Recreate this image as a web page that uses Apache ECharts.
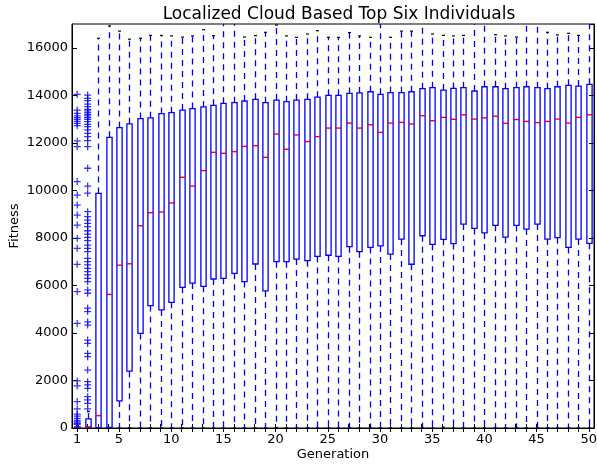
<!DOCTYPE html>
<html>
<head>
<meta charset="utf-8">
<script src="https://cdn.jsdelivr.net/npm/echarts@6/dist/echarts.min.js"></script>
<style>html,body{margin:0;padding:0;background:#fff}#c{width:597px;height:464px}</style>
</head>
<body>
<div id="c"></div>
<script>
const generations = ['1','2','3','4','5','6','7','8','9','10','11','12','13','14','15','16','17','18','19','20','21','22','23','24','25','26','27','28','29','30','31','32','33','34','35','36','37','38','39','40','41','42','43','44','45','46','47','48','49','50'];
const xTickLabels = ['1','5','10','15','20','25','30','35','40','45','50'];

const whiskerLow = [0,0,0,0,0,0,0,0,0,0,0,0,0,0,0,0,0,0,0,0,0,0,0,0,0,0,0,0,0,0,0,0,0,0,0,0,0,0,0,0,0,0,0,0,0,0,0,0,0,0];
const q1 = [0,0,0,30,1140,2390,3980,5150,4970,5290,5920,6100,5960,6270,6300,6510,6160,6900,5770,7000,7000,7110,7040,7220,7270,7220,7630,7420,7600,7660,7320,7950,6890,8090,7730,7940,7760,8580,8400,8210,8530,8030,8530,8370,8580,7950,8010,7600,7950,7770];
const median = [0,50,520,5620,6850,6910,8510,9060,9090,9470,10550,10180,10830,11600,11560,11630,11850,11880,11390,12370,11730,12330,12050,12260,12620,12620,12830,12620,12760,12440,12830,12860,12790,13140,12930,13070,12990,13180,13000,13050,13120,12820,12980,12900,12850,12900,13000,12830,13070,13180];
const q3 = [50,380,9870,12230,12640,12800,13020,13050,13230,13270,13380,13440,13510,13580,13660,13690,13760,13830,13690,13800,13730,13800,13830,13920,14000,14000,14080,14100,14150,14040,14110,14110,14150,14280,14320,14220,14290,14320,14180,14360,14360,14280,14320,14360,14320,14280,14360,14420,14390,14460];
const whiskerHigh = [100,700,16400,16920,16700,16360,16400,16520,16520,16500,16450,16500,16760,16510,17500,17500,16450,16510,16650,16960,16500,16440,16580,16720,16440,16440,16640,16500,16440,17500,16440,16700,16700,17500,16580,16520,16500,16520,17500,17500,16550,16500,16450,17500,17500,16650,16540,16610,16520,17500];

const outliersGen1 = [150,200,260,320,410,500,580,800,1110,1770,1980,4400,5740,6890,7560,7980,8540,8960,9380,9800,10370,11840,12080,12720,12820,12900,12990,13060,13130,13240,13380,14040];
const outliersGen2 = [14010,13870,13780,13630,13520,13410,13340,13270,13200,13130,13060,12990,12890,12780,12680,12540,12400,12260,12090,11840,10930,10180,9880,9100,8890,8750,8610,8470,8300,8160,8020,7880,7700,7560,7420,7140,7000,6860,6720,6580,6440,6300,6160,5810,5670,5040,4900,4470,4330,3700,3560,3140,3000,2440,1950,1810,1670,1320,1180,1040,800];

const BLUE = '#0000ff';
const FONT = 'DejaVu Sans';

const boxData = generations.map((g, i) => [i, whiskerLow[i], q1[i], median[i], q3[i], whiskerHigh[i]]);
const outlierData = outliersGen1.map(v => [0, v]).concat(outliersGen2.map(v => [1, v]));

function renderBox(params, api) {
  const idx = api.value(0);
  const cx = Math.round(api.coord([idx, 0])[0]) + 0.5;
  const band = api.size([1, 0])[0];
  const half = band * 0.25;
  const capHalf = band * 0.14;
  const y = k => api.coord([idx, api.value(k)])[1];
  const yLo = y(1), yQ1 = y(2), yMed = y(3), yQ3 = y(4), yHi = y(5);
  const dash = [6, 5];
  return {
    type: 'group',
    children: [
      { type: 'line', shape: { x1: cx, y1: yQ3, x2: cx, y2: yHi }, style: { stroke: BLUE, lineWidth: 1.3, lineDash: dash } },
      { type: 'line', shape: { x1: cx, y1: yQ1, x2: cx, y2: yLo }, style: { stroke: BLUE, lineWidth: 1.3, lineDash: dash } },
      { type: 'line', shape: { x1: cx - capHalf, y1: yHi, x2: cx + capHalf, y2: yHi }, style: { stroke: '#000', lineWidth: 1.2 } },
      { type: 'line', shape: { x1: cx - capHalf, y1: yLo, x2: cx + capHalf, y2: yLo }, style: { stroke: '#000', lineWidth: 1.2 } },
      { type: 'rect', shape: { x: cx - half, y: yQ3, width: 2 * half, height: yQ1 - yQ3 }, style: { fill: 'none', stroke: BLUE, lineWidth: 1.3 } },
      { type: 'line', shape: { x1: cx - half, y1: yMed, x2: cx + half, y2: yMed }, style: { stroke: '#ff0000', lineWidth: 1.4 } }
    ]
  };
}

const chart = echarts.init(document.getElementById('c'), null, { renderer: 'canvas' });
const axisLineStyle = { show: true, lineStyle: { color: '#000', width: 1 } };
chart.setOption({
  animation: false,
  backgroundColor: '#fff',
  title: {
    text: 'Localized Cloud Based Top Six Individuals',
    left: 334, top: 1, textAlign: 'center',
    textStyle: { fontFamily: FONT, fontSize: 17, fontWeight: 'normal', color: '#000' }
  },
  grid: { left: 72, right: 3, top: 24, bottom: 36, show: true, borderColor: '#000', borderWidth: 1, containLabel: false, outerBoundsMode: 'none' },
  xAxis: [{
    type: 'category', data: generations, boundaryGap: true,
    axisLine: axisLineStyle,
    axisTick: { show: true, inside: true, length: 4, alignWithLabel: true, interval: 0, lineStyle: { color: '#000' } },
    axisLabel: { interval: (i, v) => xTickLabels.indexOf(v) >= 0, color: '#000', fontFamily: FONT, fontSize: 13, margin: 5 },
    splitLine: { show: false },
    name: 'Generation', nameLocation: 'middle', nameGap: 20, nameMoveOverlap: false,
    nameTextStyle: { fontFamily: FONT, fontSize: 13, color: '#000', verticalAlign: 'top' }
  }, {
    type: 'category', data: generations, boundaryGap: true, position: 'top',
    axisLine: axisLineStyle,
    axisTick: { show: true, inside: true, length: 4, alignWithLabel: true, interval: 0, lineStyle: { color: '#000' } },
    axisLabel: { show: false }, splitLine: { show: false }
  }],
  yAxis: [{
    type: 'value', min: 0, max: 17000, interval: 2000,
    axisLine: axisLineStyle,
    axisTick: { show: true, inside: true, length: 5, lineStyle: { color: '#000' } },
    axisLabel: { color: '#000', fontFamily: FONT, fontSize: 13, margin: 4, showMaxLabel: false, formatter: v => String(v) },
    splitLine: { show: false },
    name: 'Fitness', nameLocation: 'middle', nameRotate: 90, nameGap: 51, nameMoveOverlap: false,
    nameTextStyle: { fontFamily: FONT, fontSize: 13, color: '#000' }
  }, {
    type: 'value', min: 0, max: 17000, interval: 2000, position: 'right',
    axisLine: axisLineStyle,
    axisTick: { show: true, inside: true, length: 5, lineStyle: { color: '#000' } },
    axisLabel: { show: false }, splitLine: { show: false }
  }],
  series: [{
    type: 'scatter', xAxisIndex: 0, yAxisIndex: 0,
    data: outlierData,
    symbol: 'path://M4.1,0H5.9V4.1H10V5.9H5.9V10H4.1V5.9H0V4.1H4.1Z',
    symbolSize: 7,
    itemStyle: { color: BLUE },
    z: 3
  }, {
    type: 'custom', xAxisIndex: 0, yAxisIndex: 0,
    data: boxData,
    encode: { x: 0, y: [1, 2, 3, 4, 5] },
    renderItem: renderBox,
    clip: true,
    z: 2
  }]
});
</script>
</body>
</html>
